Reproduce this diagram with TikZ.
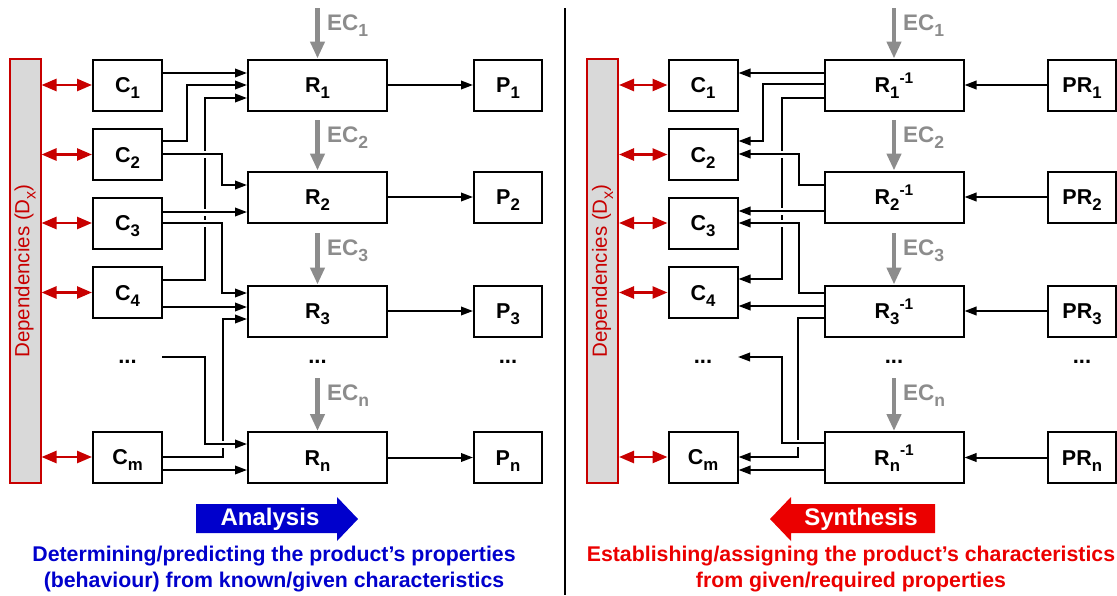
\documentclass[tikz,border=0pt]{standalone}
\usepackage{fontspec}
\setmainfont{Liberation Sans}
\usepackage{graphicx}
\usetikzlibrary{arrows.meta,backgrounds}
\definecolor{ecgray}{RGB}{140,140,140}
\definecolor{depred}{RGB}{200,0,0}
\definecolor{anblue}{RGB}{0,0,204}
\definecolor{synred}{RGB}{235,0,0}
\definecolor{bargray}{RGB}{217,217,217}
\newcommand{\lo}[1]{\raisebox{-0.3em}{\scalebox{0.78}{#1}}}
\newcommand{\hi}[1]{\raisebox{0.42em}{\scalebox{0.72}{#1}}}
\begin{document}
\begin{tikzpicture}[x=1pt,y=-1pt,font=\bfseries,
  box/.style={draw,line width=2pt,fill=white,inner sep=0pt,text height=15pt,text depth=0pt,font=\fontsize{21.5}{24}\selectfont\bfseries},
  cbox/.style={box,minimum width=69pt,minimum height=51pt},
  rbox/.style={box,minimum width=139pt,minimum height=51pt},
  pbox/.style={box,minimum width=68pt,minimum height=51pt},
  conn/.style={line width=2pt,-{Triangle[length=12pt,width=8.5pt]}},
  halo/.style={preaction={draw=white,line width=7pt,-}},
  ec/.style={draw=ecgray,line width=4.5pt,-{Triangle[length=17pt,width=14pt]}},
  ectext/.style={text=ecgray,font=\fontsize{22.5}{24}\selectfont\bfseries,anchor=base west,inner sep=0pt},
  dep/.style={draw=depred,line width=2.5pt,{Triangle[length=15pt,width=12pt]}-{Triangle[length=15pt,width=12pt]}},
  depbar/.style={draw=depred,fill=bargray,line width=2pt,minimum width=31pt,minimum height=424pt,inner sep=0pt},
  dotsty/.style={font=\fontsize{22}{24}\selectfont\bfseries,anchor=base,inner sep=0pt},
  bottomtext/.style={align=center,font=\fontsize{21.3}{26}\selectfont\bfseries}
]
\useasboundingbox (0,0) rectangle (1117,595);

% ---------------- LEFT PANEL ----------------
\node[depbar] (barL) at (25,271) {};
\node[rotate=90,text=depred,font=\fontsize{20.5}{24}\selectfont\mdseries] (barLt) at (barL) {Dependencies (D\lo{x})};

\node[cbox] (C1) at (127.5,85) {C\lo{1}};
\node[cbox] (C2) at (127.5,154.5) {C\lo{2}};
\node[cbox] (C3) at (127.5,223) {C\lo{3}};
\node[cbox] (C4) at (127.5,292.5) {C\lo{4}};
\node[cbox] (Cm) at (127.5,457) {C\lo{m}};

\node[rbox] (R1) at (317.5,85) {R\lo{1}};
\node[rbox] (R2) at (317.5,197) {R\lo{2}};
\node[rbox] (R3) at (317.5,311) {R\lo{3}};
\node[rbox] (Rn) at (317.5,457.5) {R\lo{n}};

\node[pbox] (P1) at (508,85) {P\lo{1}};
\node[pbox] (P2) at (508,197) {P\lo{2}};
\node[pbox] (P3) at (508,311) {P\lo{3}};
\node[pbox] (Pn) at (508,457.5) {P\lo{n}};

\node[dotsty] (dCL) at (127.5,363) {...};
\node[dotsty] (dRL) at (317.5,363) {...};
\node[dotsty] (dPL) at (508,363) {...};

\coordinate (ecL1) at (R1.north |- 0,8);
\coordinate (ecL2) at (R2.north |- 0,120);
\coordinate (ecL3) at (R3.north |- 0,233);
\coordinate (ecLn) at (Rn.north |- 0,378);
\draw[ec] (ecL1) -- (R1.north);
\draw[ec] (ecL2) -- (R2.north);
\draw[ec] (ecL3) -- (R3.north);
\draw[ec] (ecLn) -- (Rn.north);
\node[ectext] (tL1) at (327,30) {EC\lo{1}};
\node[ectext] (tL2) at (327,142) {EC\lo{2}};
\node[ectext] (tL3) at (327,255) {EC\lo{3}};
\node[ectext] (tLn) at (327,400) {EC\lo{n}};

\foreach \c in {C1,C2,C3,C4,Cm} \draw[dep] (barL.east |- \c) -- (\c.west);

\coordinate (dl) at (162,357);
\begin{scope}[on background layer]
  \draw[conn] (C1.east |- 0,73) -- (R1.west |- 0,73);
  \draw[conn] (C2.east |- 0,141) -| (187,85) -- (R1.west |- 0,85);
  \draw[conn] (C4.east |- 0,280) -| (205,98) -- (R1.west |- 0,98);
  \draw[conn] (Cm.east |- 0,457) -| (223,319) -- (R3.west |- 0,319);
  \draw[conn,halo] (C2.east |- 0,154) -| (222,185) -- (R2.west |- 0,185);
  \draw[conn,halo] (C3.east |- 0,212) -- (R2.west |- 0,212);
  \draw[conn,halo] (C3.east |- 0,223) -| (222,293) -- (R3.west |- 0,293);
  \draw[conn] (C4.east |- 0,307) -- (R3.west |- 0,307);
  \draw[conn,halo] (dl) -| (205,444) -- (Rn.west |- 0,444);
  \draw[conn] (Cm.east |- 0,470) -- (Rn.west |- 0,470);
  \draw[conn] (R1.east) -- (P1.west);
  \draw[conn] (R2.east) -- (P2.west);
  \draw[conn] (R3.east) -- (P3.west);
  \draw[conn] (Rn.east) -- (Pn.west);
\end{scope}

\fill[anblue] (196,504) -- (337,504) -- (337,497) -- (358,519) -- (337,541) -- (337,533) -- (196,533) -- cycle;
\node[text=white,font=\fontsize{24}{26}\selectfont\bfseries] (analysis) at (270,519) {Analysis};
\node[bottomtext,text=anblue] (descL) at (274,569) {Determining/predicting the product’s properties\\(behaviour) from known/given characteristics};

% divider
\coordinate (divT) at (565,8);
\coordinate (divB) at (565,595);
\draw[line width=2pt] (divT) -- (divB);

% ---------------- RIGHT PANEL ----------------
\node[depbar] (barR) at (602.5,271) {};
\node[rotate=90,text=depred,font=\fontsize{20.5}{24}\selectfont\mdseries] (barRt) at (barR) {Dependencies (D\lo{x})};

\node[cbox] (D1) at (703,85) {C\lo{1}};
\node[cbox] (D2) at (703,154.5) {C\lo{2}};
\node[cbox] (D3) at (703,223) {C\lo{3}};
\node[cbox] (D4) at (703,292.5) {C\lo{4}};
\node[cbox] (Dm) at (703,457) {C\lo{m}};

\node[rbox] (S1) at (894,85) {R\lo{1}\hi{-1}};
\node[rbox] (S2) at (894,197) {R\lo{2}\hi{-1}};
\node[rbox] (S3) at (894,311) {R\lo{3}\hi{-1}};
\node[rbox] (Sn) at (894,457.5) {R\lo{n}\hi{-1}};

\node[pbox] (Q1) at (1082,85) {PR\lo{1}};
\node[pbox] (Q2) at (1082,197) {PR\lo{2}};
\node[pbox] (Q3) at (1082,311) {PR\lo{3}};
\node[pbox] (Qn) at (1082,457.5) {PR\lo{n}};

\node[dotsty] (dCR) at (703,363) {...};
\node[dotsty] (dRR) at (894,363) {...};
\node[dotsty] (dPR) at (1082,363) {...};

\coordinate (ecR1) at (S1.north |- 0,8);
\coordinate (ecR2) at (S2.north |- 0,120);
\coordinate (ecR3) at (S3.north |- 0,233);
\coordinate (ecRn) at (Sn.north |- 0,378);
\draw[ec] (ecR1) -- (S1.north);
\draw[ec] (ecR2) -- (S2.north);
\draw[ec] (ecR3) -- (S3.north);
\draw[ec] (ecRn) -- (Sn.north);
\node[ectext] (tR1) at (903,30) {EC\lo{1}};
\node[ectext] (tR2) at (903,142) {EC\lo{2}};
\node[ectext] (tR3) at (903,255) {EC\lo{3}};
\node[ectext] (tRn) at (903,400) {EC\lo{n}};

\foreach \c in {D1,D2,D3,D4,Dm} \draw[dep] (barR.east |- \c) -- (\c.west);

\coordinate (dr) at (738,357);
\begin{scope}[on background layer]
  \draw[conn] (S1.west |- 0,73) -- (D1.east |- 0,73);
  \draw[conn] (S1.west |- 0,84) -| (763,141) -- (D2.east |- 0,141);
  \draw[conn] (S1.west |- 0,98) -| (782,279) -- (D4.east |- 0,279);
  \draw[conn] (S3.west |- 0,318) -| (798,457) -- (Dm.east |- 0,457);
  \draw[conn,halo] (S2.west |- 0,185) -| (799,154) -- (D2.east |- 0,154);
  \draw[conn,halo] (S2.west |- 0,211) -- (D3.east |- 0,211);
  \draw[conn,halo] (S3.west |- 0,293) -| (799,223) -- (D3.east |- 0,223);
  \draw[conn] (S3.west |- 0,306) -- (D4.east |- 0,306);
  \draw[conn,halo] (Sn.west |- 0,443) -| (782,357) -- (dr);
  \draw[conn] (Sn.west |- 0,470) -- (Dm.east |- 0,470);
  \draw[conn] (Q1.west) -- (S1.east);
  \draw[conn] (Q2.west) -- (S2.east);
  \draw[conn] (Q3.west) -- (S3.east);
  \draw[conn] (Qn.west) -- (Sn.east);
\end{scope}

\fill[synred] (935,504) -- (791,504) -- (791,497) -- (770,519) -- (791,541) -- (791,533) -- (935,533) -- cycle;
\node[text=white,font=\fontsize{24}{26}\selectfont\bfseries] (synthesis) at (861,519) {Synthesis};
\node[bottomtext,text=synred] (descR) at (851,569) {Establishing/assigning the product’s characteristics\\from given/required properties};
\end{tikzpicture}
\end{document}
